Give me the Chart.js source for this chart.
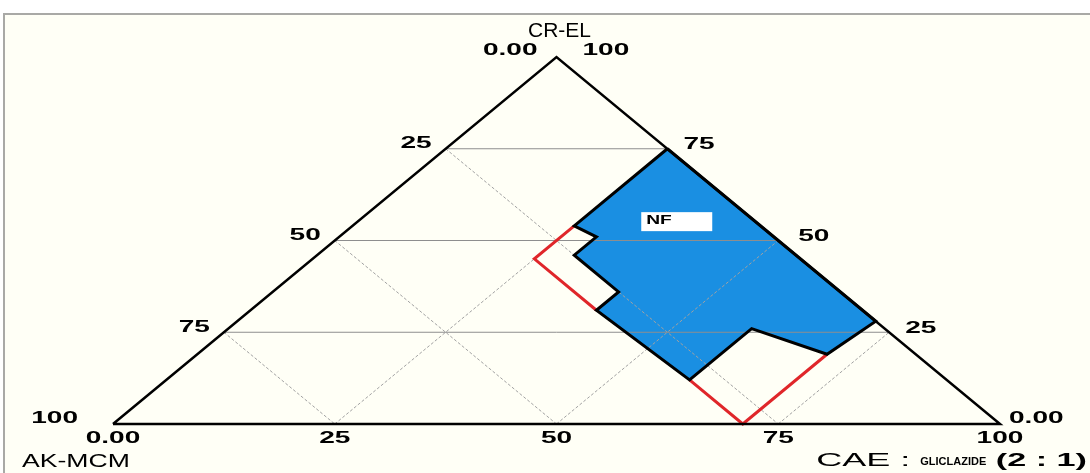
<!DOCTYPE html>
<html><head><meta charset="utf-8">
<script src="https://cdn.jsdelivr.net/npm/chart.js@4"></script>
<style>html,body{margin:0;padding:0;background:#fff;overflow:hidden}canvas{display:block}</style>
</head><body>
<canvas id="c" width="1090" height="473"></canvas>
<script>
// ---- data (ternary percentages: CR-EL, CAE; AK-MCM = 100 - CR-EL - CAE) ----
const gridTicks = [25, 50, 75];
const tickValues = [0, 25, 50, 75, 100];
const bottomTickLabels = ['0.00', '25', '50', '75', '100'];   // CAE : GLICLAZIDE
const leftTickLabels = ['0.00', '25', '50', '75', '100'];     // AK-MCM (top -> bottom-left)
const rightTickLabels = ['100', '75', '50', '25', '0.00'];    // CR-EL (top -> bottom-right)
const axisTitles = ['CR-EL', 'AK-MCM', 'CAE : ', 'GLICLAZIDE', ' (2 : 1)'];
const nfCREL = [75, 54, 51, 46, 36, 31, 12, 26, 19, 28];
const nfCAE  = [25, 25, 29, 29, 39, 39, 59, 59, 71, 72];
const redUpperCREL = [54, 45, 31];
const redUpperCAE  = [25, 25, 39];
const redLowerCREL = [12, 0, 19];
const redLowerCAE  = [59, 71, 71];
const regionNames = ['NF'];
const regionCREL = [55];
const regionCAE = [36];

function tern(crel, cae) { return {x: cae + crel / 2, y: crel}; }
function poly(aArr, cArr, close) {
  const pts = aArr.map((a, i) => tern(a, cArr[i]));
  if (close) pts.push(pts[0]);
  return pts;
}

const datasets = [];
datasets.push({data: poly(nfCREL, nfCAE, true), borderColor: '#000', borderWidth: 3,
  backgroundColor: '#1a8fe2', fill: 'shape', borderJoinStyle: 'miter'});
datasets.push({data: [tern(0,0), tern(0,100), tern(100,0), tern(0,0)], borderColor: '#000',
  borderWidth: 2.5, fill: false, borderJoinStyle: 'miter'});
datasets.push({data: poly(redUpperCREL, redUpperCAE, false), borderColor: '#e0262a', borderWidth: 3, fill: false});
datasets.push({data: poly(redLowerCREL, redLowerCAE, false), borderColor: '#e0262a', borderWidth: 3, fill: false});
gridTicks.forEach(t => {
  datasets.push({data: [tern(t, 0), tern(t, 100 - t)], borderColor: '#8e8e8e', borderWidth: 1, fill: false});
  datasets.push({data: [tern(0, t), tern(100 - t, t)], borderColor: '#a2a2a2', borderWidth: 1, borderDash: [3, 2], fill: false});
  datasets.push({data: [tern(100 - t, 0), tern(0, 100 - t)], borderColor: '#a2a2a2', borderWidth: 1, borderDash: [3, 2], fill: false});
});
datasets.forEach(d => { d.showLine = true; d.pointRadius = 0; d.pointHoverRadius = 0; d.clip = false; d.tension = 0; });

const FONT = '"Liberation Sans", Arial, sans-serif';
function sText(ctx, text, x, y, align, font, sx, color) {
  ctx.save();
  ctx.font = font; ctx.fillStyle = color || '#000'; ctx.textBaseline = 'middle'; ctx.textAlign = 'left';
  const w = ctx.measureText(text).width * sx;
  const left = align === 'left' ? x : (align === 'right' ? x - w : x - w / 2);
  ctx.translate(left, y); ctx.scale(sx, 1); ctx.fillText(text, 0, 0);
  ctx.restore();
  return w;
}

const ternaryPlugin = {
  id: 'ternaryDecor',
  beforeDraw(chart) {
    const ctx = chart.ctx;
    ctx.save();
    ctx.fillStyle = '#ffffff'; ctx.fillRect(0, 0, chart.width, chart.height);
    ctx.fillStyle = '#fffff6'; ctx.fillRect(3, 13, chart.width - 3, chart.height - 13);
    ctx.strokeStyle = '#a9a9a6'; ctx.lineWidth = 2;
    ctx.beginPath(); ctx.moveTo(4, chart.height); ctx.lineTo(4, 14); ctx.lineTo(chart.width, 14); ctx.stroke();
    ctx.restore();
  },
  afterDraw(chart) {
    const ctx = chart.ctx, xs = chart.scales.x, ys = chart.scales.y;
    const P = (a, c) => { const p = tern(a, c); return {x: xs.getPixelForValue(p.x), y: ys.getPixelForValue(p.y)}; };
    const numFont = 'bold 17px ' + FONT, sx = 1.65;
    tickValues.forEach((v, i) => { const p = P(0, v); sText(ctx, bottomTickLabels[i], p.x, p.y + 14, 'center', numFont, sx); });
    tickValues.forEach((v, i) => {
      const p = P(100 - v, 0);
      let dx = -14, dy = -5;
      if (v === 0) { dx = -19; dy = -7; }
      if (v === 100) { dx = -35; dy = -6; }
      sText(ctx, leftTickLabels[i], p.x + dx, p.y + dy, 'right', numFont, sx);
    });
    tickValues.forEach((v, i) => {
      const a = 100 - v; const p = P(a, 100 - a);
      let dx = 16, dy = -4;
      if (a === 50) { dx = 20; }
      if (a === 100) { dx = 26; dy = -7; }
      if (a === 0) { dx = 9; dy = -6; }
      sText(ctx, rightTickLabels[i], p.x + dx, p.y + dy, 'left', numFont, sx);
    });
    const top = P(100, 0);
    sText(ctx, axisTitles[0], top.x + 3, 31, 'center', '20px ' + FONT, 1.05);
    sText(ctx, axisTitles[1], 22, 462, 'left', '19px ' + FONT, 1.4);
    const parts = [[axisTitles[2], '18px ' + FONT, 2.0, 0], [axisTitles[3], 'bold 10px ' + FONT, 1.1, 1], [axisTitles[4], 'bold 18px ' + FONT, 1.9, 0]];
    let total = 0;
    parts.forEach(pt => { ctx.font = pt[1]; total += ctx.measureText(pt[0]).width * pt[2]; });
    let x = 1087 - total;
    parts.forEach(pt => { x += sText(ctx, pt[0], x, 461 + pt[3], 'left', pt[1], pt[2]); });
    regionNames.forEach((n, i) => {
      const p = P(regionCREL[i], regionCAE[i]);
      ctx.save(); ctx.fillStyle = '#ffffff'; ctx.fillRect(p.x - 35, p.y - 10, 71, 19); ctx.restore();
      sText(ctx, n, p.x - 30, p.y - 1, 'left', 'bold 12px ' + FONT, 1.6);
    });
  }
};

new Chart(document.getElementById('c'), {
  type: 'scatter',
  data: {datasets},
  options: {
    responsive: false, animation: false, devicePixelRatio: 1,
    layout: {padding: {left: 113, right: 90, top: 57, bottom: 49}},
    scales: {
      x: {type: 'linear', min: 0, max: 100, display: false},
      y: {type: 'linear', min: 0, max: 100, display: false}
    },
    plugins: {legend: {display: false}, tooltip: {enabled: false}, title: {display: false},
      filler: {drawTime: 'beforeDatasetsDraw'}},
    events: []
  },
  plugins: [ternaryPlugin]
});
</script>
</body></html>
